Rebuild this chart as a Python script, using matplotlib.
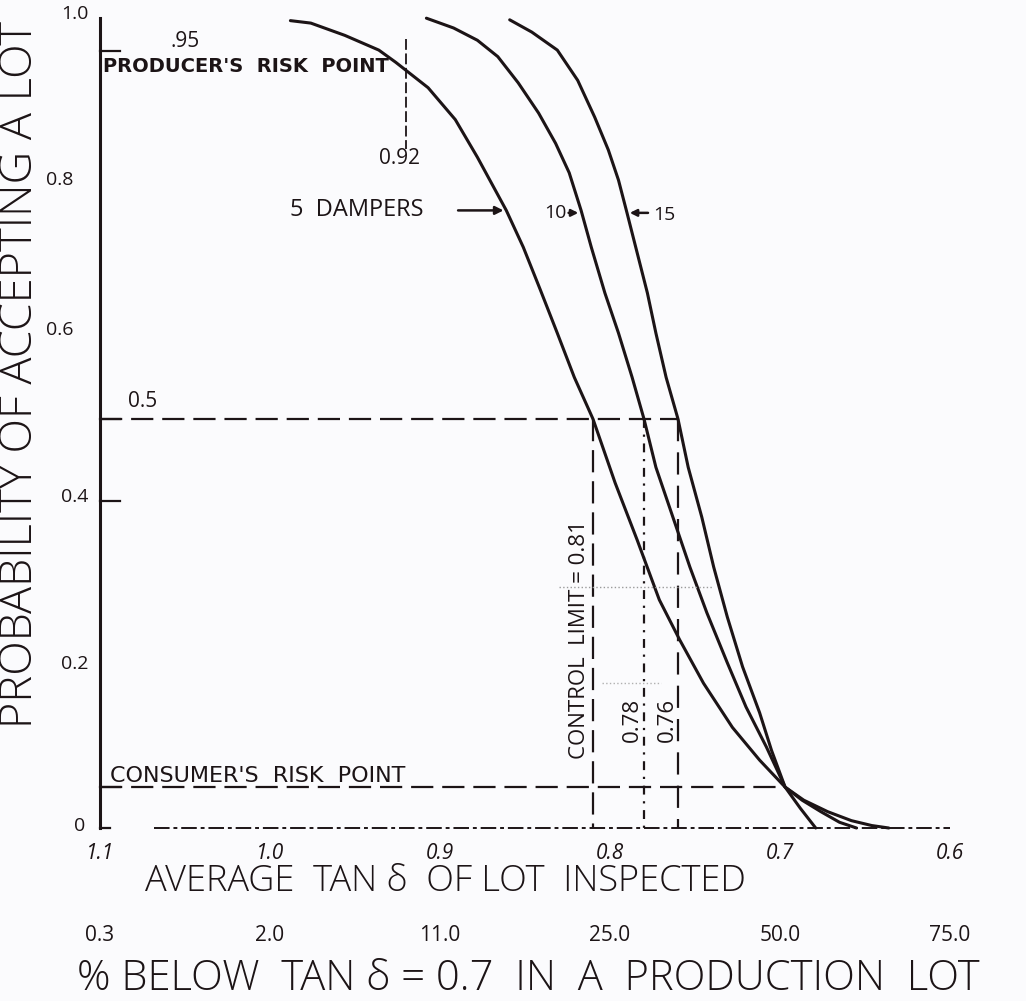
import matplotlib
matplotlib.use("Agg")
import matplotlib.pyplot as plt

# ---- data ----
tan_5 = [0.988, 0.976, 0.956, 0.936, 0.926, 0.907, 0.891, 0.878, 0.861, 0.851, 0.841,
         0.831, 0.821, 0.81, 0.797, 0.784, 0.771, 0.759, 0.745, 0.728, 0.712, 0.697,
         0.686, 0.672, 0.658, 0.646, 0.636]
p_5 = [0.987, 0.984, 0.969, 0.951, 0.936, 0.905, 0.866, 0.820, 0.755, 0.710, 0.658,
       0.605, 0.551, 0.50, 0.422, 0.352, 0.279, 0.230, 0.177, 0.123, 0.083, 0.05,
       0.034, 0.020, 0.009, 0.003, 0.0]

tan_10 = [0.908, 0.892, 0.878, 0.866, 0.854, 0.842, 0.832, 0.824, 0.817, 0.811,
          0.803, 0.795, 0.787, 0.78, 0.773, 0.763, 0.753, 0.743, 0.731, 0.72, 0.708,
          0.697, 0.687, 0.676, 0.665, 0.655]
p_10 = [0.990, 0.978, 0.963, 0.943, 0.911, 0.874, 0.837, 0.801, 0.755, 0.710,
        0.654, 0.605, 0.551, 0.50, 0.441, 0.380, 0.319, 0.263, 0.202, 0.148, 0.099,
        0.05, 0.034, 0.020, 0.007, 0.0]

tan_15 = [0.859, 0.846, 0.831, 0.819, 0.809, 0.801, 0.795, 0.790, 0.784, 0.778,
          0.773, 0.767, 0.76, 0.754, 0.746, 0.739, 0.731, 0.722, 0.712, 0.705, 0.697,
          0.688, 0.679]
p_15 = [0.988, 0.973, 0.951, 0.914, 0.869, 0.829, 0.792, 0.752, 0.703, 0.654,
        0.605, 0.551, 0.50, 0.441, 0.380, 0.319, 0.258, 0.197, 0.141, 0.095, 0.05,
        0.024, 0.0]

x_ticks = [1.1, 1.0, 0.9, 0.8, 0.7, 0.6]
x_tick_labels = ["1.1", "1.0", "0.9", "0.8", "0.7", "0.6"]
pct_labels = ["0.3", "2.0", "11.0", "25.0", "50.0", "75.0"]
y_ticks = [1.0, 0.8, 0.6, 0.4, 0.2, 0.0]
y_tick_labels = ["1.0", "0.8", "0.6", "0.4", "0.2", "0"]

producer_p = 0.95
producer_tan = 0.92
consumer_p = 0.05
consumer_tan = 0.697
half_p = 0.5
limits = [0.81, 0.78, 0.76]

FONT = ["Open Sans", "DejaVu Sans"]
ink = "#1c1416"

fig = plt.figure(figsize=(10.26, 10.01), dpi=100)
fig.patch.set_facecolor("#fbfbfd")
ax = fig.add_axes([100 / 1026, 173 / 1001, 850 / 1026, 818 / 1001])
ax.set_xlim(1.1, 0.6)
ax.set_ylim(0, 1)
ax.axis("off")

# curves
for tx, py in [(tan_5, p_5), (tan_10, p_10), (tan_15, p_15)]:
    ax.plot(tx, py, color=ink, lw=2.2, solid_capstyle="round",
            solid_joinstyle="round", clip_on=False)

# y axis line and foot
ax.plot([1.1, 1.1], [0, 0.99], color=ink, lw=2.2, clip_on=False)
ax.plot([1.1, 1.094], [0.0, 0.0], color=ink, lw=1.6, clip_on=False)
for yt in [producer_p, half_p, 0.4, consumer_p]:
    ax.plot([1.1, 1.088], [yt, yt], color=ink, lw=1.6, clip_on=False)

# x axis dashed baseline
ax.plot([1.068, 0.6], [0, 0], color=ink, lw=1.4, ls=(0, (8, 2, 2, 2)), clip_on=False)

# y tick labels
ylab_pos = {1.0: (1.1147, 0.995), 0.8: (1.1235, 0.792), 0.6: (1.1235, 0.609),
            0.4: (1.1147, 0.405), 0.2: (1.1147, 0.200), 0.0: (1.1118, 0.003)}
for v, lab in zip(y_ticks, y_tick_labels):
    xx, yy = ylab_pos[v]
    ax.text(xx, yy, lab, fontsize=14, family=FONT, color=ink, ha="center",
            va="center", clip_on=False)

# x tick labels
for v, lab in zip(x_ticks, x_tick_labels):
    ax.text(v, -0.031, lab, fontsize=15, family=FONT, color=ink, ha="center",
            va="center", style="italic", clip_on=False)
for v, lab in zip(x_ticks, pct_labels):
    ax.text(v, -0.131, lab, fontsize=15, family=FONT, color=ink, ha="center",
            va="center", clip_on=False)

# axis titles
ax.text(1.1465, 0.554, "PROBABILITY OF ACCEPTING A LOT", rotation=90, fontsize=32.5,
        family=FONT, color=ink, ha="center", va="center", clip_on=False,
        fontweight="light")
ax.text(0.897, -0.066, "AVERAGE  TAN \u03b4  OF LOT  INSPECTED", fontsize=26,
        family=FONT, color=ink, ha="center", va="center", clip_on=False,
        fontweight="light")
ax.text(0.848, -0.184, "% BELOW  TAN \u03b4 = 0.7  IN  A  PRODUCTION  LOT",
        fontsize=30, family=FONT, color=ink, ha="center", va="center",
        clip_on=False, fontweight="light")

# producer's risk point
ax.plot([producer_tan, producer_tan], [0.965, 0.83], color=ink, lw=1.3,
        ls=(0, (6, 2)), clip_on=False)
ax.text(1.0985, 0.931, "PRODUCER'S  RISK  POINT", fontsize=14, family="DejaVu Sans",
        color=ink, ha="left", va="center", fontweight="bold", clip_on=False)
ax.text(1.05, 0.962, ".95", fontsize=15, family=FONT, color=ink, ha="center",
        va="center", clip_on=False)
ax.text(producer_tan + 0.004, 0.818, "0.92", fontsize=15, family=FONT, color=ink,
        ha="center", va="center", clip_on=False)

# 0.5 line
ax.plot([1.1, limits[2]], [half_p, half_p], color=ink, lw=1.6, ls=(0, (10, 4)),
        clip_on=False)
ax.text(1.075, 0.522, "0.5", fontsize=15, family=FONT, color=ink, ha="center",
        va="center", clip_on=False)

# consumer's risk line
ax.plot([1.1, consumer_tan], [consumer_p, consumer_p], color=ink, lw=1.6,
        ls=(0, (10, 4)), clip_on=False)
ax.text(1.094, 0.063, "CONSUMER'S  RISK  POINT", fontsize=16, family="DejaVu Sans",
        color=ink, ha="left", va="center", clip_on=False)

# vertical control lines
styles = [(0, (10, 4)), (0, (4, 3, 1, 3)), (0, (10, 5))]
for lim, st in zip(limits, styles):
    ax.plot([lim, lim], [half_p, 0], color=ink, lw=1.6, ls=st, clip_on=False)
ax.text(limits[0] + 0.008, 0.23, "CONTROL  LIMIT = 0.81", rotation=90, fontsize=16,
        family=FONT, color=ink, ha="center", va="center", clip_on=False)
ax.text(limits[1] + 0.007, 0.132, "0.78", rotation=90, fontsize=16,
        family=FONT, color=ink, ha="center", va="center", clip_on=False)
ax.text(limits[2] + 0.006, 0.132, "0.76", rotation=90, fontsize=16,
        family=FONT, color=ink, ha="center", va="center", clip_on=False)

# faint dotted scan guides
ax.plot([0.83, 0.74], [0.295, 0.295], color="#9a9a9a", lw=1.0, ls=":", clip_on=False)
ax.plot([0.805, 0.77], [0.177, 0.177], color="#b0b0b0", lw=1.0, ls=":", clip_on=False)

# curve labels with arrows
ax.text(0.949, 0.755, "5  DAMPERS", fontsize=17, family=FONT, color=ink,
        ha="center", va="center", clip_on=False)
ax.annotate("", xy=(0.861, 0.755), xytext=(0.891, 0.755),
            arrowprops=dict(arrowstyle="-|>", color=ink, lw=1.8, mutation_scale=12))
ax.text(0.832, 0.752, "10", fontsize=14, family=FONT, color=ink,
        ha="center", va="center", clip_on=False)
ax.annotate("", xy=(0.817, 0.752), xytext=(0.826, 0.752),
            arrowprops=dict(arrowstyle="-|>", color=ink, lw=1.8, mutation_scale=10))
ax.text(0.768, 0.75, "15", fontsize=14, family=FONT, color=ink,
        ha="center", va="center", clip_on=False)
ax.annotate("", xy=(0.790, 0.752), xytext=(0.776, 0.752),
            arrowprops=dict(arrowstyle="-|>", color=ink, lw=1.8, mutation_scale=10))

fig.savefig("out.png", dpi=100, facecolor=fig.get_facecolor())
